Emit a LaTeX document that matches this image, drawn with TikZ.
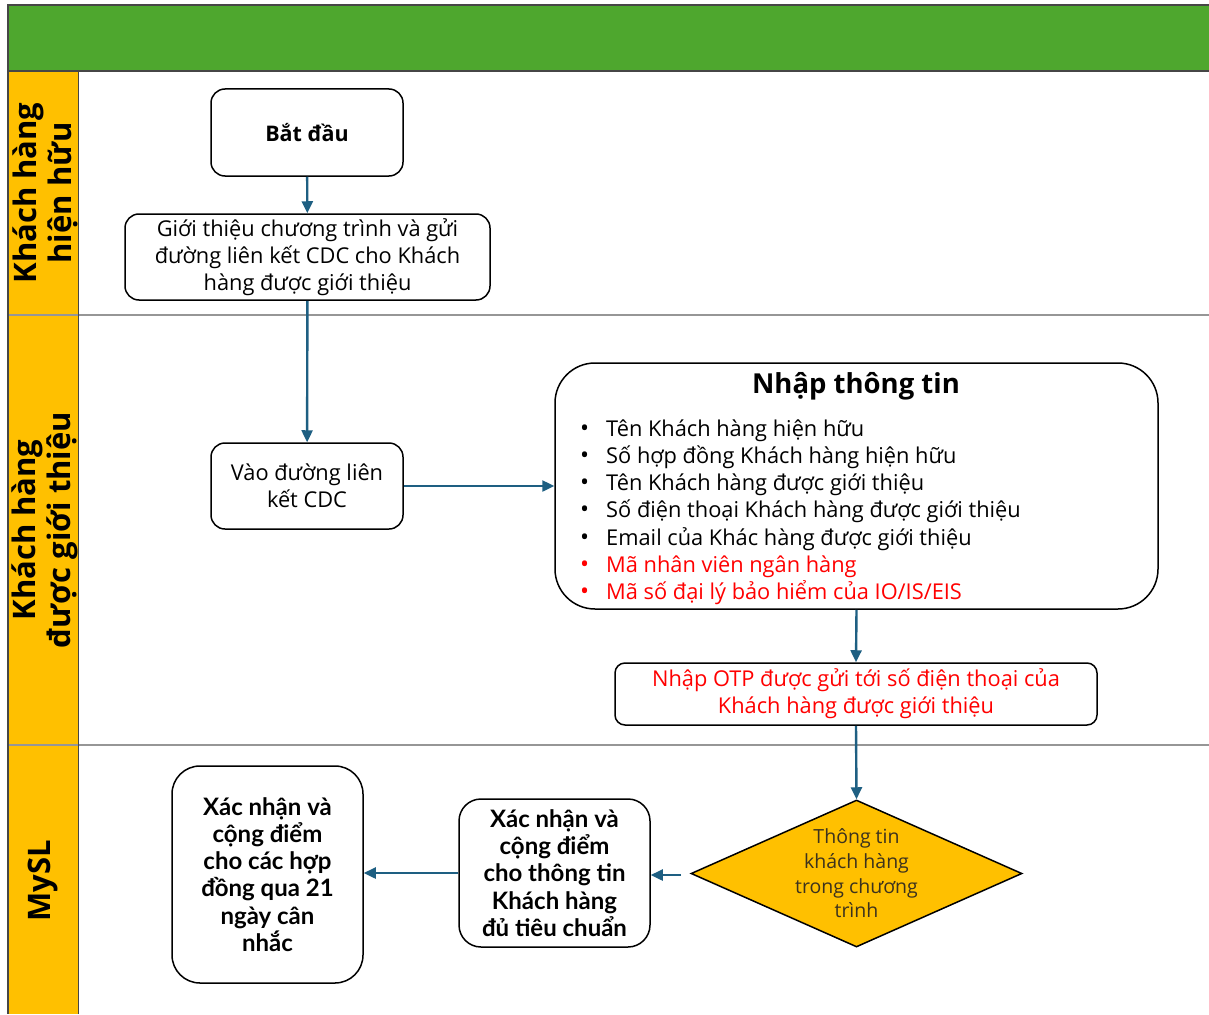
\documentclass[tikz,border=0pt]{standalone}
\usepackage{fontspec}
\setmainfont{Open Sans}
\newfontfamily\condfont{Lato}
\usetikzlibrary{shapes.geometric,arrows.meta}
\definecolor{hdrgreen}{RGB}{78,167,46}
\definecolor{laneyel}{RGB}{255,192,0}
\definecolor{arrowblue}{RGB}{30,95,130}
\definecolor{redtxt}{RGB}{255,0,0}
\definecolor{framegray}{RGB}{70,70,70}
\definecolor{sepgray}{RGB}{150,150,150}
\definecolor{dectxt}{RGB}{60,50,30}
\newcommand{\bul}{{\fontsize{24}{27.2}\selectfont •}}
\tikzset{
  box/.style={draw=black, line width=1.5pt, fill=white, align=center, inner sep=0pt,
    font=\fontsize{21.8}{27}\selectfont},
  lanelabel/.style={rotate=90, align=center, font=\fontsize{31}{35}\selectfont\bfseries},
  flow/.style={draw=arrowblue, line width=2.4pt, -{Triangle[length=12pt,width=11pt]}},
  boldtxt/.style={font=\condfont\fontsize{24}{27.2}\selectfont\bfseries}
}
\begin{document}
\begin{tikzpicture}[x=1pt,y=-1pt]
\useasboundingbox (0,0) rectangle (1209,1014);
% frame
\fill[hdrgreen] (8,5) rectangle (1209,71);
\fill[laneyel] (8,71) rectangle (78,1014);
\draw[sepgray, line width=1.5pt] (8,315) -- (1209,315);
\draw[sepgray, line width=1.5pt] (8,745) -- (1209,745);
\draw[framegray, line width=1.5pt] (1209,5) -- (8,5) -- (8,1014);
\draw[framegray, line width=1.5pt] (8,71) -- (1209,71);
\draw[framegray, line width=1pt] (78,71) -- (78,1014);
% lane labels
\node[lanelabel] (lane1) at (45,193) {Khách hàng\\hiện hữu};
\node[lanelabel] (lane2) at (45,530) {Khách hàng\\được giới thiệu};
\node[lanelabel] (lane3) at (43,881) {MySL};
% nodes
\node[box, rounded corners=14pt, minimum width=192pt, minimum height=87pt] (start) at (307,132.5)
  {\fontsize{21.5}{27}\selectfont\bfseries Bắt đầu};
\node[box, rounded corners=14pt, minimum width=365pt, minimum height=86pt] (intro) at (307.5,257)
  {Giới thiệu chương trình và gửi\\đường liên kết CDC cho Khách\\hàng được giới thiệu};
\node[box, rounded corners=14pt, minimum width=192pt, minimum height=86pt] (visit) at (307,486)
  {Vào đường liên\\kết CDC};
\node[box, rounded corners=40pt, minimum width=603pt, minimum height=246pt] (input) at (856.5,486) {};
\node[font=\fontsize{27.5}{30}\selectfont\bfseries, inner sep=0pt] (inputtitle) at (856,386) {Nhập thông tin};
\node[anchor=north west, inner sep=0pt, font=\fontsize{21.8}{27.2}\selectfont] (inputlist) at (580,417)
  {\begin{tabular}{@{}l@{\hspace{17pt}}l@{}}
   \bul & Tên Khách hàng hiện hữu\\
   \bul & Số hợp đồng Khách hàng hiện hữu\\
   \bul & Tên Khách hàng được giới thiệu\\
   \bul & Số điện thoại Khách hàng được giới thiệu\\
   \bul & Email của Khác hàng được giới thiệu\\
   \color{redtxt}\bul & \color{redtxt}Mã nhân viên ngân hàng\\
   \color{redtxt}\bul & \color{redtxt}Mã số đại lý bảo hiểm của IO/IS/EIS
   \end{tabular}};
\node[box, rounded corners=10pt, minimum width=482pt, minimum height=62pt, text=redtxt] (otp) at (856,694)
  {Nhập OTP được gửi tới số điện thoại của\\Khách hàng được giới thiệu};
\node[diamond, draw=black, line width=1.5pt, fill=laneyel, minimum width=331pt, minimum height=147pt, inner sep=0pt] (dec) at (856.5,873.5) {};
\node[align=center, inner sep=0pt, text=dectxt, font=\fontsize{19.5}{24.7}\selectfont] (dectext) at (856.5,873.5)
  {Thông tin\\khách hàng\\trong chương\\trình};
\node[box, rounded corners=22pt, minimum width=191pt, minimum height=148pt, boldtxt] (confirm) at (554.5,873)
  {Xác nhận và\\cộng điểm\\cho thông tin\\Khách hàng\\đủ tiêu chuẩn};
\node[box, rounded corners=28pt, minimum width=191pt, minimum height=217pt, boldtxt] (final) at (267.5,874.5)
  {Xác nhận và\\cộng điểm\\cho các hợp\\đồng qua 21\\ngày cân\\nhắc};
\coordinate (decout) at (681,875);
% connectors
\draw[flow] (start) -- (intro);
\draw[flow] (intro) -- (visit);
\draw[flow] (visit) -- (input);
\draw[flow] (input.south) -- (otp.north);
\draw[flow] (otp.south) -- (dec.north);
\draw[flow] (decout) -- (confirm.east |- decout);
\draw[flow] (confirm.west) -- (final.east |- confirm.west);
\end{tikzpicture}
\end{document}
